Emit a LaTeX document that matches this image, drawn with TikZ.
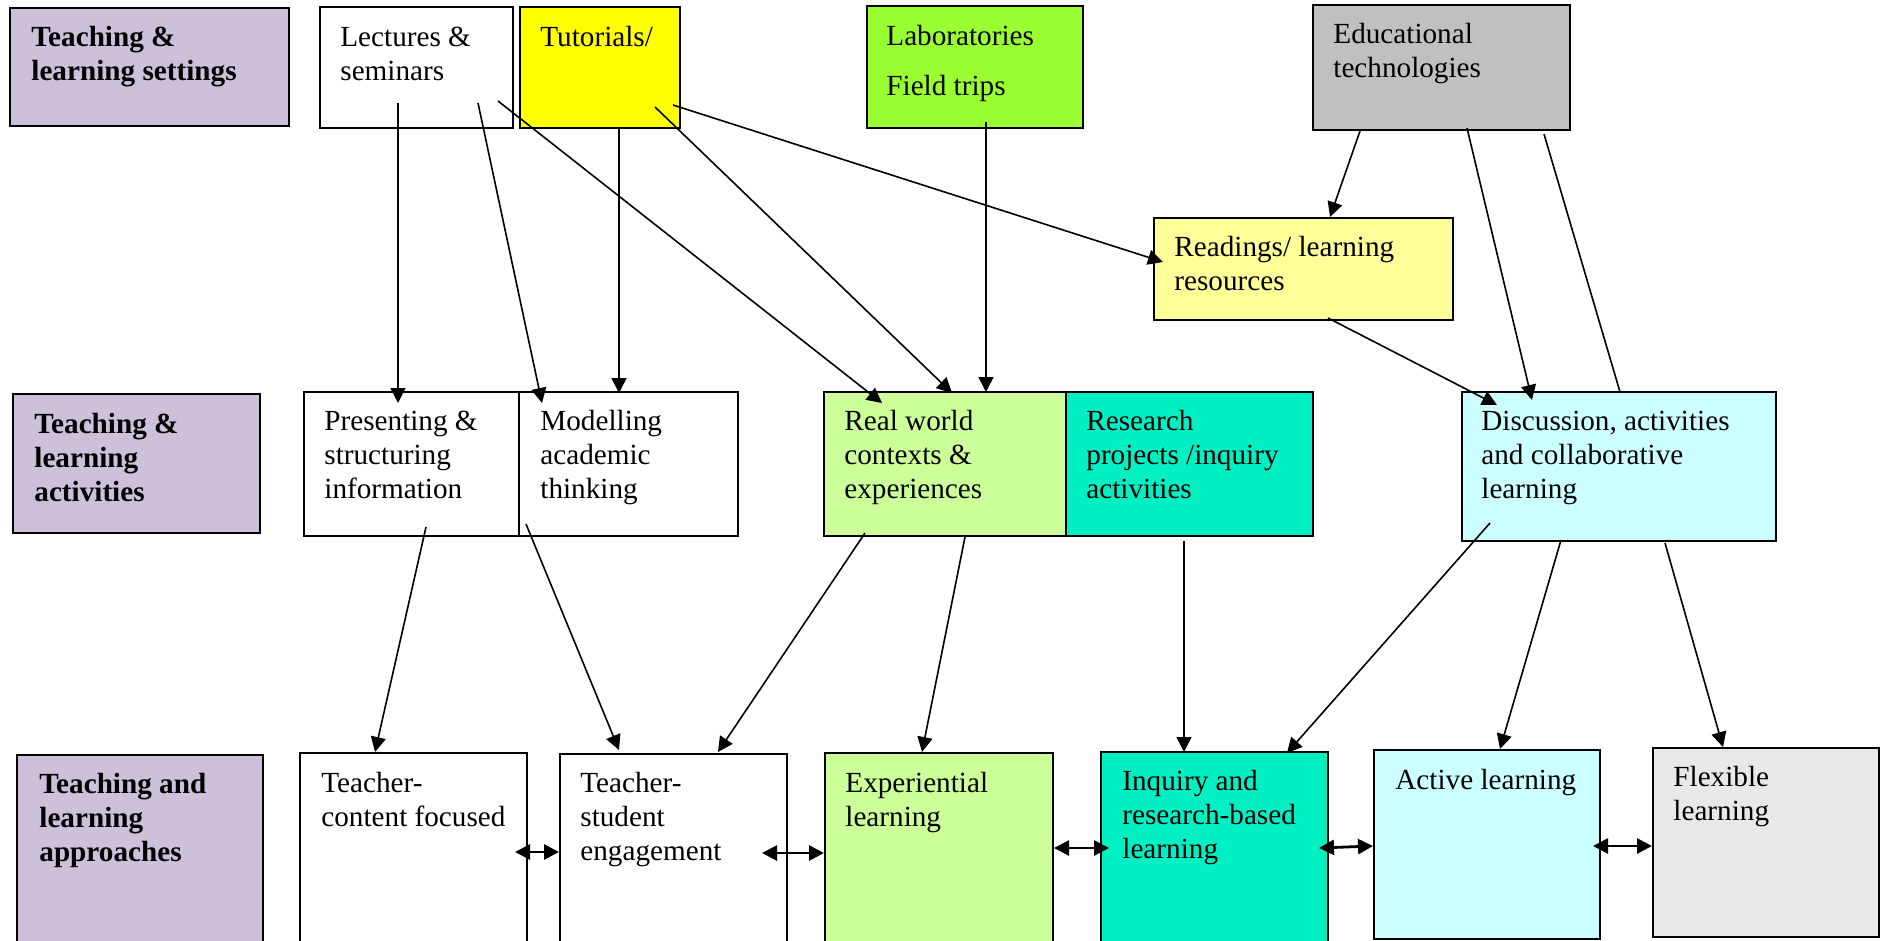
\documentclass[tikz,border=0pt]{standalone}
\usepackage{fontspec}
\setmainfont{Liberation Serif}
\usepackage{xcolor}
\usepackage{tikz}
\usetikzlibrary{fit,arrows.meta}

\definecolor{catpurple}{RGB}{204,192,218}
\definecolor{tutyellow}{RGB}{255,255,0}
\definecolor{labgreen}{RGB}{153,255,51}
\definecolor{techgray}{RGB}{192,192,192}
\definecolor{readyellow}{RGB}{255,255,153}
\definecolor{palegreen}{RGB}{204,255,153}
\definecolor{seagreen}{RGB}{0,240,195}
\definecolor{palecyan}{RGB}{204,255,255}
\definecolor{flexgray}{RGB}{232,232,232}

\tikzset{
  box/.style={draw,line width=1pt,inner sep=0pt},
  txt/.style={inner sep=0pt,anchor=north west,align=left,
    font=\fontsize{14.6}{17.1}\selectfont},
  cat/.style={txt,font=\fontsize{14.6}{17.1}\selectfont\bfseries},
}

\begin{document}
\begin{tikzpicture}[x=0.5pt,y=-0.5pt,>={Triangle[length=7.5pt,width=7.5pt]}]
  \useasboundingbox (0,0) rectangle (1885,941);
  \fill[white] (0,0) rectangle (1885,941);
  \clip (0,0) rectangle (1885,941);

  % settings row
  \node[box,fill=catpurple,fit={(10,8) (289,126)}] (cat1) {};
  \node[box,fit={(320,7) (513,128)}] (lect) {};
  \node[box,fill=tutyellow,fit={(520,7) (680,128)}] (tut) {};
  \node[box,fill=labgreen,fit={(867,6) (1083,128)}] (lab) {};
  \node[box,fill=techgray,fit={(1313,5) (1570,130)}] (tech) {};
  \node[box,fill=readyellow,fit={(1154,218) (1453,320)}] (read) {};

  % activities row
  \node[box,fill=catpurple,fit={(13,394) (260,533)}] (cat2) {};
  \node[box,fit={(304,392) (519,536)}] (pres) {};
  \node[box,fit={(519,392) (738,536)}] (model) {};
  \node[box,fill=palegreen,fit={(824,392) (1066,536)}] (real) {};
  \node[box,fill=seagreen,fit={(1066,392) (1313,536)}] (res) {};
  \node[box,fill=palecyan,fit={(1462,392) (1776,541)}] (disc) {};

  % approaches row
  \node[box,fill=catpurple,fit={(17,755) (263,960)}] (cat3) {};
  \node[box,fit={(300,753) (527,960)}] (tcf) {};
  \node[box,fit={(560,754) (787,960)}] (tse) {};
  \node[box,fill=palegreen,fit={(825,753) (1053,960)}] (exp) {};
  \node[box,fill=seagreen,fit={(1101,752) (1328,960)}] (inq) {};
  \node[box,fill=palecyan,fit={(1374,750) (1600,939)}] (act) {};
  \node[box,fill=flexgray,fit={(1653,748) (1879,937)}] (flex) {};

  % labels
  \node[cat] (cat1-t) at ([shift={(22,15)}]cat1.north west) {\strut Teaching \&\\learning settings};
  \node[txt] (lect-t) at ([shift={(21,16)}]lect.north west) {\strut Lectures \&\\seminars};
  \node[txt] (tut-t) at ([shift={(21,16)}]tut.north west) {\strut Tutorials/};
  \node[txt] (lab-t) at ([shift={(20,16)}]lab.north west) {\strut Laboratories\\[8pt]Field trips};
  \node[txt] (tech-t) at ([shift={(21,15)}]tech.north west) {\strut Educational\\technologies};
  \node[txt] (read-t) at ([shift={(21,15)}]read.north west) {\strut Readings/ learning\\resources};
  \node[cat] (cat2-t) at ([shift={(22,16)}]cat2.north west) {\strut Teaching \&\\learning\\activities};
  \node[txt] (pres-t) at ([shift={(21,15)}]pres.north west) {\strut Presenting \&\\structuring\\information};
  \node[txt] (model-t) at ([shift={(22,15)}]model.north west) {\strut Modelling\\academic\\thinking};
  \node[txt] (real-t) at ([shift={(21,15)}]real.north west) {\strut Real world\\contexts \&\\experiences};
  \node[txt] (res-t) at ([shift={(21,15)}]res.north west) {\strut Research\\projects /inquiry\\activities};
  \node[txt] (disc-t) at ([shift={(20,15)}]disc.north west) {\strut Discussion, activities\\and collaborative\\learning};
  \node[cat] (cat3-t) at ([shift={(23,15)}]cat3.north west) {\strut Teaching and\\learning\\approaches};
  \node[txt] (tcf-t) at ([shift={(22,16)}]tcf.north west) {\strut Teacher-\\content focused};
  \node[txt] (tse-t) at ([shift={(21,15)}]tse.north west) {\strut Teacher-\\student\\engagement};
  \node[txt] (exp-t) at ([shift={(21,16)}]exp.north west) {\strut Experiential\\learning};
  \node[txt] (inq-t) at ([shift={(22,15)}]inq.north west) {\strut Inquiry and\\research-based\\learning};
  \node[txt] (act-t) at ([shift={(22,16)}]act.north west) {\strut Active learning};
  \node[txt] (flex-t) at ([shift={(21,15)}]flex.north west) {\strut Flexible\\learning};

  % connector ends
  \coordinate (l1) at (398,103);  \coordinate (p1) at (398,403);
  \coordinate (l2) at (478,103);  \coordinate (m1) at (542,403);
  \coordinate (l3) at (498,101);  \coordinate (r1) at (882,403);
  \coordinate (t1) at (619,128);  \coordinate (m2) at (619,393);
  \coordinate (t2) at (655,107);  \coordinate (r2) at (952,393);
  \coordinate (t3) at (673,105);  \coordinate (d1) at (1163,262);
  \coordinate (b1) at (986,122);  \coordinate (r3) at (986,392);
  \coordinate (e1) at (1360,131); \coordinate (d2) at (1330,217);
  \coordinate (e2) at (1467,128); \coordinate (s1) at (1532,400);
  \coordinate (e3) at (1544,134); \coordinate (s2) at (1620,392);
  \coordinate (d3) at (1328,318); \coordinate (s3) at (1497,405);

  \coordinate (p2) at (426,527);  \coordinate (c1) at (375,752);
  \coordinate (m3) at (526,524);  \coordinate (c2) at (619,750);
  \coordinate (r4) at (865,533);  \coordinate (c3) at (718,752);
  \coordinate (r5) at (965,537);  \coordinate (c4) at (922,752);
  \coordinate (q1) at (1184,541); \coordinate (c5) at (1184,752);
  \coordinate (s4) at (1490,523); \coordinate (c6) at (1287,753);
  \coordinate (s5) at (1561,540); \coordinate (c7) at (1500,749);
  \coordinate (s6) at (1665,543); \coordinate (c8) at (1723,747);

  % settings to activities
  \draw[->,line width=0.8pt] (l1) -- (p1);
  \draw[->,line width=0.8pt] (l2) -- (m1);
  \draw[->,line width=0.8pt] (l3) -- (r1);
  \draw[->,line width=0.8pt] (t1) -- (m2);
  \draw[->,line width=0.8pt] (t2) -- (r2);
  \draw[->,line width=0.8pt] (t3) -- (d1);
  \draw[->,line width=0.8pt] (b1) -- (r3);
  \draw[->,line width=0.8pt] (e1) -- (d2);
  \draw[->,line width=0.8pt] (e2) -- (s1);
  \draw[line width=0.8pt] (e3) -- (s2);
  \draw[->,line width=0.8pt] (d3) -- (s3);

  % activities to approaches
  \draw[->,line width=0.8pt] (p2) -- (c1);
  \draw[->,line width=0.8pt] (m3) -- (c2);
  \draw[->,line width=0.8pt] (r4) -- (c3);
  \draw[->,line width=0.8pt] (r5) -- (c4);
  \draw[->,line width=0.8pt] (q1) -- (c5);
  \draw[->,line width=0.8pt] (s4) -- (c6);
  \draw[->,line width=0.8pt] (s5) -- (c7);
  \draw[->,line width=0.8pt] (s6) -- (c8);

  % links between approaches
  \draw[<->,line width=1.4pt] (515,852) -- (tse.west |- 0,852);
  \draw[<->,line width=1.4pt] (762,853) -- (exp.west |- 0,853);
  \draw[<->,line width=1.4pt] (exp.east |- 0,848) -- (1109,848);
  \draw[<->,line width=1.4pt] (1319,848) -- (act.west |- 0,846);
  \draw[<->,line width=1.4pt] (1593,846) -- (flex.west |- 0,846);
\end{tikzpicture}
\end{document}
